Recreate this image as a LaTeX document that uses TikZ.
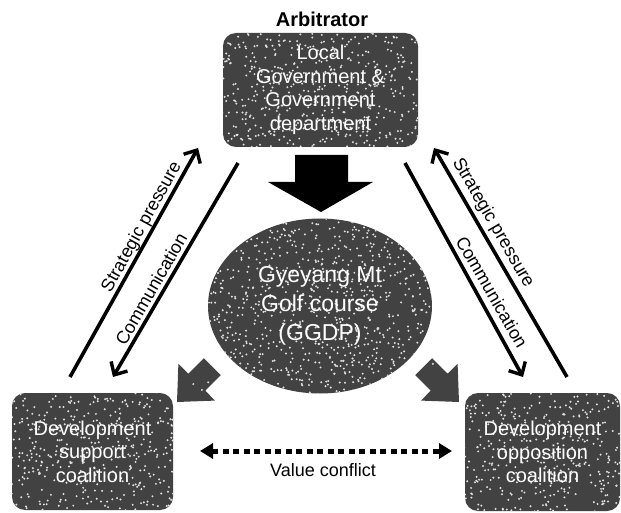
\documentclass[tikz,border=0pt]{standalone}
\usepackage{fontspec}
\setmainfont{Liberation Sans}
\usetikzlibrary{arrows.meta,shapes.geometric}
\pgfmathsetseed{7}
\tikzset{
  speckfill/.style={fill=black!74,
    path picture={\foreach \k in {1,...,#1}{\fill[black!12] ([shift={({115*rand},{95*rand})}]path picture bounding box.center) circle (1.1);}}},
  darkbox/.style={speckfill=900, rounded corners=13pt, text=white, align=center,
    font=\fontsize{20}{23.5}\selectfont, inner sep=0pt},
  conn/.style={line width=3.6pt, -{Straight Barb[length=10pt,width=19pt,line width=3.4pt]}},
  lbl/.style={font=\fontsize{18}{20}\selectfont, inner sep=0pt},
  blockarrow/.style={speckfill=90},
}
\begin{document}
\begin{tikzpicture}[x=1pt,y=-1pt]
\useasboundingbox (0,0) rectangle (621,513);

% nodes
\node[darkbox, minimum width=195pt, minimum height=114pt] (gov) at (320.5,90) {Local\\Government \&\\Government\\department};
\node[font=\bfseries\fontsize{20}{22}\selectfont, anchor=base] (arb) at (322,27) {Arbitrator};
\node[darkbox, minimum width=161pt, minimum height=117pt] (sup) at (92.5,451.5) {Development\\support\\coalition};
\node[darkbox, minimum width=155pt, minimum height=118pt] (opp) at (542.5,452) {Development\\opposition\\coalition};

% small block arrows
\path[blockarrow] (177,402) -- (215,400.6) -- (205.3,390.7) -- (220.8,375.1) -- (203.9,358.2) -- (188.3,373.7) -- (178.4,363.8) -- cycle;
\path[blockarrow] (459,402) -- (421,400.6) -- (430.7,390.7) -- (415.2,375.1) -- (432.1,358.2) -- (447.7,373.7) -- (457.6,363.8) -- cycle;

% ellipse
\node[ellipse, speckfill=1000, minimum width=224pt, minimum height=175pt, inner sep=0pt,
  text=white, align=center, font=\fontsize{23}{29}\selectfont] (golf) at (320,306) {Gyeyang Mt\\Golf course\\(GGDP)};

% big down arrow
\fill[black] (295,155) -- (348,155) -- (348,182) -- (373,182) -- (321,212) -- (268,182) -- (295,182) -- cycle;

% connectors
\coordinate (lsA) at (70,377);  \coordinate (lsB) at (198,148);
\coordinate (lcA) at (238,163); \coordinate (lcB) at (113,377);
\coordinate (rsA) at (567,377); \coordinate (rsB) at (434,148);
\coordinate (rcA) at (405,163); \coordinate (rcB) at (523,377);
\draw[conn] (lsA) -- (lsB);
\draw[conn] (lcA) -- (lcB);
\draw[conn] (rsA) -- (rsB);
\draw[conn] (rcA) -- (rcB);

\node[lbl, rotate=61] (lsl) at (142,227) {Strategic pressure};
\node[lbl, rotate=60] (lcl) at (151,289) {Communication};
\node[lbl, rotate=-60] (rsl) at (493,223) {Strategic pressure};
\node[lbl, rotate=-60] (rcl) at (492,292) {Communication};

% value conflict
\coordinate (vcL) at (200,451); \coordinate (vcR) at (452,451);
\draw[line width=5pt, dash pattern=on 6pt off 4.5pt,
  {Triangle[length=13pt,width=15pt]}-{Triangle[length=13pt,width=15pt]}] (vcL) -- (vcR);
\node[lbl] (vc) at (323,470) {Value conflict};
\end{tikzpicture}
\end{document}
